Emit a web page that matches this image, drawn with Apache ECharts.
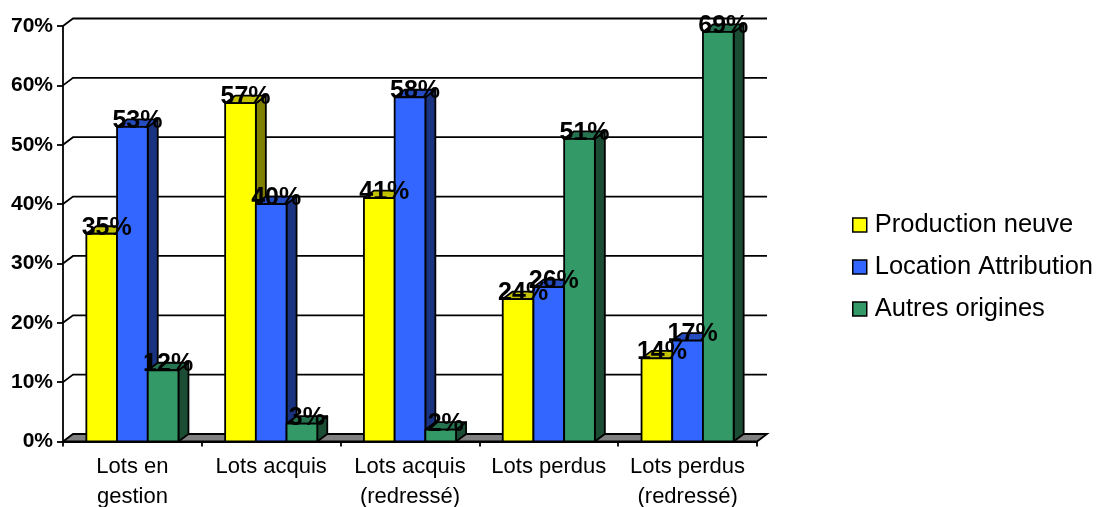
<!DOCTYPE html>
<html>
<head>
<meta charset="utf-8">
<style>html,body{margin:0;padding:0;background:#fff}#chart{width:1101px;height:507px}</style>
<script src="https://cdn.jsdelivr.net/npm/echarts@6/dist/echarts.min.js"></script>
</head>
<body>
<div id="chart"></div>
<script>
// Origine des lots, en pourcentage, par catégorie
const categories = ['Lots en\ngestion', 'Lots acquis', 'Lots acquis\n(redressé)', 'Lots perdus', 'Lots perdus\n(redressé)'];
const productionNeuve = [35, 57, 41, 24, 14];
const locationAttribution = [53, 40, 58, 26, 17];
const autresOrigines = [12, 3, 2, 51, 69];
const tickValues = [0, 10, 20, 30, 40, 50, 60, 70];

const FONT = '"Liberation Sans", Arial, sans-serif';
const DX = 10, DY = 7.5;          // décalage de profondeur de la vue 3D
const BAR_RATIO = 0.2212;         // largeur d'une barre / largeur d'une catégorie
const LINE = '#000';
const LW = 1.8;

const seriesDefs = [
  { name: 'Production neuve', values: productionNeuve, front: '#FFFF00', top: '#C2C200', side: '#808000' },
  { name: 'Location Attribution', values: locationAttribution, front: '#3366FF', top: '#264DC0', side: '#1A3380' },
  { name: 'Autres origines', values: autresOrigines, front: '#339966', top: '#267350', side: '#1A4D33' }
];

// Parois : diagonales de profondeur, lignes de grille au fond et plancher gris
function renderWall(params, api) {
  const v = api.value(1);
  const y = api.coord([0, v])[1];
  const cs = params.coordSys;
  const stroke = { stroke: LINE, lineWidth: LW, fill: null };
  const children = [];
  if (v === 0) {
    children.push({
      type: 'polygon',
      shape: { points: [[cs.x, y], [cs.x + DX, y - DY], [cs.x + cs.width + DX, y - DY], [cs.x + cs.width, y]] },
      style: { fill: '#808080', stroke: LINE, lineWidth: LW }
    });
  } else {
    children.push({
      type: 'polyline',
      shape: { points: [[cs.x, y], [cs.x + DX, y - DY], [cs.x + cs.width + DX, y - DY]] },
      style: stroke
    });
  }
  return { type: 'group', children };
}

// Une colonne : face avant, dessus et flanc droit
function makeBarRenderer(def, slot) {
  return function (params, api) {
    const cat = api.value(0);
    const [cx, yTop] = api.coord([cat, api.value(1)]);
    const yBase = api.coord([cat, 0])[1];
    const w = api.size([1, 0])[0] * BAR_RATIO;
    const x0 = cx + (slot - 1.5) * w;
    const x1 = x0 + w;
    const edge = { stroke: LINE, lineWidth: LW, lineJoin: 'round' };
    return {
      type: 'group',
      children: [
        {
          type: 'polygon',
          shape: { points: [[x1, yTop], [x1 + DX, yTop - DY], [x1 + DX, yBase - DY], [x1, yBase]] },
          style: { fill: def.side, ...edge }
        },
        {
          type: 'polygon',
          shape: { points: [[x0, yTop], [x0 + DX, yTop - DY], [x1 + DX, yTop - DY], [x1, yTop]] },
          style: { fill: def.top, ...edge }
        },
        {
          type: 'rect',
          shape: { x: x0, y: yTop, width: w, height: yBase - yTop },
          style: { fill: def.front, ...edge }
        }
      ]
    };
  };
}

// Étiquettes de valeur, centrées sur la colonne et posées sur son arête haute
function renderValueLabel(params, api) {
  const cat = api.value(0), v = api.value(1), slot = api.value(2);
  const [cx, yTop] = api.coord([cat, v]);
  const w = api.size([1, 0])[0] * BAR_RATIO;
  return {
    type: 'text',
    style: {
      x: cx + (slot - 1) * w + DX / 2,
      y: yTop + 6.5,
      text: v + '%',
      fill: '#000',
      font: 'bold 25px ' + FONT,
      align: 'center',
      verticalAlign: 'bottom'
    }
  };
}

const labelRows = [];
seriesDefs.forEach((def, slot) => def.values.forEach((v, i) => labelRows.push([i, v, slot])));

const option = {
  animation: false,
  backgroundColor: '#fff',
  grid: { left: 63, right: 344, top: 26, bottom: 65.5, containLabel: false, outerBoundsMode: 'none' },
  legend: {
    orient: 'vertical',
    left: 847,
    top: 205.5,
    itemWidth: 14,
    itemHeight: 14,
    itemGap: 13,
    selectedMode: false,
    textStyle: { color: '#000', fontFamily: FONT, fontSize: 25.5, padding: [0, 0, 0, 3], lineHeight: 29 },
    data: seriesDefs.map(d => ({
      name: d.name,
      icon: 'rect',
      itemStyle: { color: d.front, borderColor: '#000', borderWidth: 1.5 }
    }))
  },
  xAxis: {
    type: 'category',
    data: categories,
    z: 3,
    axisLine: { show: true, lineStyle: { color: LINE, width: LW } },
    axisTick: { show: true, length: 5, lineStyle: { color: LINE, width: LW } },
    axisLabel: { color: '#000', fontFamily: FONT, fontSize: 22, margin: 10, lineHeight: 30, interval: 0 }
  },
  yAxis: {
    type: 'value',
    min: 0,
    max: 70,
    interval: 10,
    splitLine: { show: false },
    z: 3,
    axisLine: { show: true, lineStyle: { color: LINE, width: LW } },
    axisTick: { show: true, length: 6, lineStyle: { color: LINE, width: LW } },
    axisLabel: { color: '#000', fontFamily: FONT, fontSize: 21, fontWeight: 'bold', margin: 10, formatter: '{value}%' }
  },
  series: [
    {
      type: 'custom',
      name: 'parois',
      z: 1,
      silent: true,
      clip: false,
      data: tickValues.map(v => [0, v]),
      encode: { x: 0, y: 1 },
      renderItem: renderWall
    },
    ...seriesDefs.map((def, slot) => ({
      type: 'custom',
      name: def.name,
      z: 4,
      clip: false,
      itemStyle: { color: def.front },
      data: def.values.map((v, i) => [i, v]),
      encode: { x: 0, y: 1 },
      renderItem: makeBarRenderer(def, slot)
    })),
    {
      type: 'custom',
      name: 'valeurs',
      z: 6,
      silent: true,
      clip: false,
      data: labelRows,
      encode: { x: 0, y: 1 },
      renderItem: renderValueLabel
    }
  ]
};

echarts.init(document.getElementById('chart'), null, { renderer: 'canvas' }).setOption(option);
</script>
</body>
</html>
